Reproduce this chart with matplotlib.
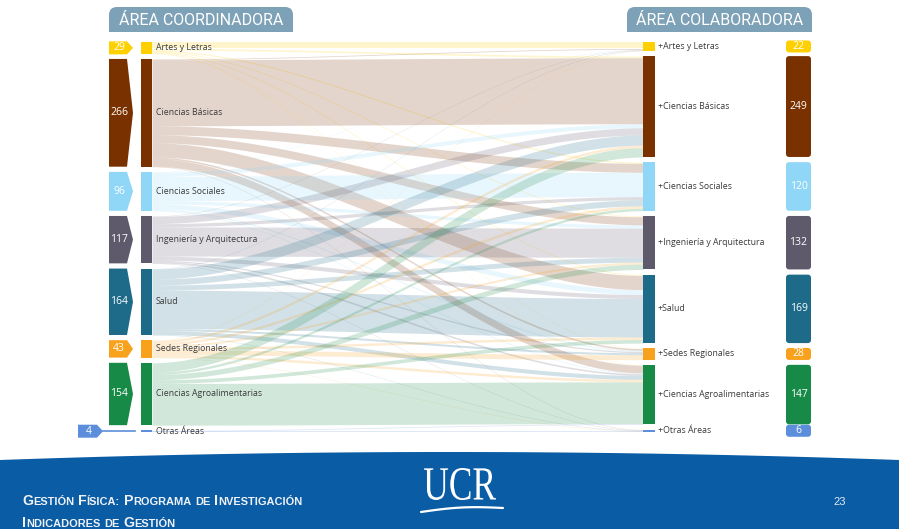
import numpy as np
import matplotlib
matplotlib.use('Agg')
import matplotlib.pyplot as plt
from matplotlib.patches import Polygon, FancyBboxPatch, Rectangle, PathPatch
from matplotlib.textpath import TextPath
from matplotlib.font_manager import FontProperties
from matplotlib.transforms import Affine2D

# areas (same order on both sides)
areas = ['Artes y Letras', 'Ciencias Básicas', 'Ciencias Sociales', 'Ingeniería y Arquitectura',
         'Salud', 'Sedes Regionales', 'Ciencias Agroalimentarias', 'Otras Áreas']
area_colors = ['#FFD000', '#7A3100', '#8FD6F7', '#5F596C', '#1E6A89', '#F7A11C', '#188A47', '#5C8EDB']

coord_totals = [29, 266, 96, 117, 164, 43, 154, 4]
colab_totals = [22, 249, 120, 132, 169, 28, 147, 6]

# rows = área coordinadora, columns = área colaboradora (estimated)
flows = [
    [16, 4, 3, 2, 2, 1, 1, 0],
    [2, 163, 22, 20, 35, 4, 19, 1],
    [1, 10, 60, 8, 12, 3, 2, 0],
    [1, 18, 8, 72, 10, 3, 4, 1],
    [1, 25, 15, 12, 95, 5, 10, 1],
    [1, 6, 6, 5, 6, 12, 6, 1],
    [0, 23, 6, 13, 9, 0, 103, 0],
    [0, 0, 0, 0, 0, 0, 2, 2],
]

header_left = 'ÁREA COORDINADORA'
header_right = 'ÁREA COLABORADORA'
footer_lines = ['GESTIÓN FÍSICA: PROGRAMA DE INVESTIGACIÓN', 'INDICADORES DE GESTIÓN']
page_number = '23'

fig = plt.figure(figsize=(8.99, 5.29), dpi=100)
ax = fig.add_axes([0, 0, 1, 1])
ax.set_xlim(0, 899)
ax.set_ylim(529, 0)
ax.axis('off')

label_font = 'Open Sans'
label_size = 6.3
num_size = 7.5
n = len(areas)
top, bottom, gap = 42, 432, 5.2
k = (bottom - top - gap * (n - 1)) / sum(coord_totals)


def stack(vals):
    y = top
    out = []
    for v in vals:
        out.append((y, y + v * k))
        y += v * k + gap
    return out


left_nodes = stack(coord_totals)
right_nodes = stack(colab_totals)
xl0, xl1 = 141, 152
xr0, xr1 = 643, 655

# flows
src_ptr = [a for a, b in left_nodes]
tgt_start = {}
tgt_ptr = [a for a, b in right_nodes]
for j in range(n):
    for i in range(n):
        tgt_start[(i, j)] = tgt_ptr[j]
        tgt_ptr[j] += flows[i][j] * k

xs = np.linspace(xl1, xr0, 120)
t = (xs - xl1) / (xr0 - xl1)
s = t * t * (3 - 2 * t)
for i in range(n):
    for j in range(n):
        h = flows[i][j] * k
        if h <= 0:
            continue
        ya = src_ptr[i]
        src_ptr[i] += h
        yb = tgt_start[(i, j)]
        yt = ya + (yb - ya) * s
        ax.fill_between(xs, yt, yt + h, color=area_colors[i], alpha=0.2, lw=0, zorder=1)

# nodes, labels and number boxes
for i in range(n):
    c = area_colors[i]
    y0, y1 = left_nodes[i]
    ax.add_patch(Rectangle((xl0, y0), xl1 - xl0, max(y1 - y0, 1.5), color=c, lw=0, zorder=3))
    cy = (y0 + y1) / 2
    ax.text(xl1 + 4, cy, areas[i], fontsize=label_size, family=label_font, color='#3A3A3A',
            va='center', ha='left', zorder=4)
    hb = max(y1 - y0, 13)
    if i == n - 1:
        bx0, bx1 = 78, 103
        ax.plot([bx1, 135], [cy, cy], color=c, lw=1.2, zorder=3)
    else:
        bx0, bx1 = 109, 133
    ax.add_patch(Polygon([(bx0, cy - hb / 2), (bx1 - 6, cy - hb / 2), (bx1, cy),
                          (bx1 - 6, cy + hb / 2), (bx0, cy + hb / 2)], closed=True,
                         color=c, lw=0, zorder=3))
    ax.text((bx0 + bx1 - 4) / 2, cy, str(coord_totals[i]), fontsize=num_size, family=label_font,
            color='white', ha='center', va='center', zorder=4)

    y0, y1 = right_nodes[i]
    ax.add_patch(Rectangle((xr0, y0), xr1 - xr0, max(y1 - y0, 1.5), color=c, lw=0, zorder=3))
    cy = (y0 + y1) / 2
    ax.text(xr1 + 3, cy, '+' + areas[i], fontsize=label_size, family=label_font, color='#3A3A3A',
            va='center', ha='left', zorder=4)
    hb = max(y1 - y0, 12)
    ax.add_patch(FancyBboxPatch((786, cy - hb / 2), 25, hb,
                                boxstyle='round,pad=0,rounding_size=3', color=c, lw=0, zorder=3))
    ax.text(798.5, cy, str(colab_totals[i]), fontsize=num_size, family=label_font,
            color='white', ha='center', va='center', zorder=4)

# header tabs
tab_color = '#7DA1B6'
for x0, x1, txt in [(109, 293, header_left), (627, 812, header_right)]:
    ax.add_patch(FancyBboxPatch((x0, 7), x1 - x0, 25, boxstyle='round,pad=0,rounding_size=8',
                                color=tab_color, lw=0))
    ax.add_patch(Rectangle((x0, 20), x1 - x0, 12, color=tab_color, lw=0))
    ax.text((x0 + x1) / 2, 20.5, txt, fontsize=11.5, family='Roboto', color='white',
            ha='center', va='center')

# footer band
fx = np.linspace(0, 899, 200)
ftop = 452 + 8 * ((fx - 449.5) / 449.5) ** 2
ax.fill_between(fx, ftop, 529, color='#0A5CA4', lw=0)

renderer = fig.canvas.get_renderer()


def small_caps(x, y, line, big=10.2, small=7.9):
    for w in line.split(' '):
        parts = [(w, small)] if w == 'DE' else [(w[0], big), (w[1:], small)]
        for txt, size in parts:
            tx = ax.text(x, y, txt.upper(), fontsize=size, family='Liberation Sans', weight='bold',
                         color='#EEF2F8', ha='left', va='baseline')
            x += tx.get_window_extent(renderer).width
        x += 3.8


small_caps(22, 505, footer_lines[0])
small_caps(22, 527, footer_lines[1])

# UCR logo
tp = TextPath((0, 0), 'UCR', size=40, prop=FontProperties(family='Liberation Serif'))
ext = tp.get_extents()
tr = Affine2D().translate(-ext.x0, -ext.y0).scale(72 / ext.width, -32 / ext.height).translate(424, 500)
ax.add_patch(PathPatch(tr.transform_path(tp), color='white', lw=0))
sx = np.linspace(421, 503, 50)
sy = 512 - 4 * (sx - 421) / 82 - 2.5 * np.sin(np.pi * (sx - 421) / 82)
ax.plot(sx, sy, color='white', lw=1.6, solid_capstyle='round')

ax.text(840, 502, page_number, fontsize=8, color='#E3EAF3', ha='center', va='center',
        family='Liberation Sans')

fig.savefig('out.png', dpi=100)
